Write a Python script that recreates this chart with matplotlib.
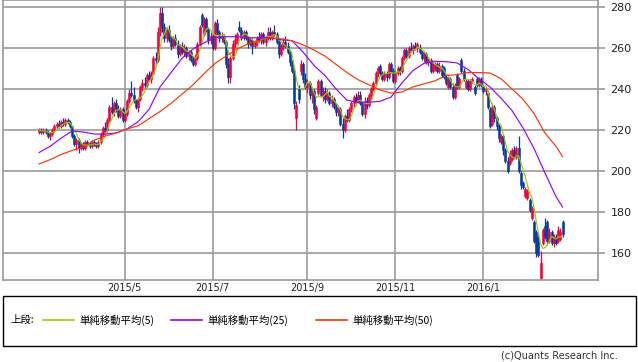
import numpy as np
import pandas as pd
import matplotlib
matplotlib.use("Agg")
import matplotlib.pyplot as plt
from matplotlib.patches import Rectangle
from matplotlib.lines import Line2D

# daily candles, one per trading day (early Mar 2015 .. late Feb 2016)
opens = [
    219, 220, 219, 220, 219, 217, 218, 220, 222, 223,
    222, 224, 223, 225, 224, 222, 217, 213, 215, 211,
    213, 211, 214, 213, 212, 214, 213, 212, 214, 218,
    221, 220, 225, 231, 229, 233, 230, 227, 230, 225,
    228, 234, 238, 237, 234, 231, 235, 241, 243, 242,
    247, 245, 248, 255, 254, 268, 277, 270, 265, 269,
    264, 261, 265, 262, 257, 261, 258, 260, 256, 258,
    254, 252, 255, 262, 276, 267, 274, 269, 264, 266,
    260, 272, 268, 265, 266, 263, 252, 246, 255, 262,
    264, 270, 269, 265, 268, 265, 262, 264, 261, 263,
    265, 264, 267, 263, 265, 268, 265, 268, 267, 263,
    257, 261, 263, 261, 258, 253, 249, 226, 240, 249,
    252, 245, 241, 243, 237, 239, 226, 238, 244, 237,
    239, 235, 238, 233, 235, 231, 229, 230, 223, 220,
    227, 225, 230, 233, 236, 234, 237, 233, 228, 234,
    232, 237, 240, 243, 248, 251, 248, 245, 248, 246,
    252, 249, 244, 248, 250, 249, 255, 259, 256, 260,
    259, 261, 260, 260, 258, 255, 257, 253, 254, 249,
    250, 252, 249, 251, 250, 246, 241, 245, 241, 236,
    247, 241, 254, 249, 241, 244, 240, 244, 241, 245,
    242, 245, 241, 239, 238, 230, 223, 231, 226, 222,
    214, 217, 210, 205, 204, 206, 210, 207, 211, 199,
    194, 188, 187, 186, 177, 175, 170, 168, 148, 165,
    173, 175, 166, 170, 165, 168, 166, 167, 175,
]
highs = [
    221, 221, 221, 221, 220, 219, 221, 223, 224, 225,
    225, 226, 226, 226, 225, 222, 218, 216, 216, 214,
    214, 215, 215, 214, 215, 215, 214, 215, 219, 222,
    224, 226, 232, 236, 234, 235, 232, 231, 231, 229,
    235, 240, 244, 241, 235, 236, 242, 245, 246, 248,
    249, 249, 256, 258, 270, 280, 280, 272, 270, 271,
    266, 266, 267, 264, 262, 263, 262, 261, 259, 259,
    256, 257, 263, 271, 277, 275, 275, 270, 268, 267,
    273, 274, 269, 268, 267, 264, 255, 256, 264, 267,
    268, 273, 270, 269, 269, 266, 265, 265, 264, 266,
    268, 268, 268, 266, 270, 270, 269, 271, 268, 264,
    262, 265, 266, 263, 259, 254, 250, 234, 242, 254,
    253, 248, 245, 244, 241, 240, 232, 245, 245, 241,
    241, 240, 239, 237, 236, 233, 232, 231, 226, 228,
    230, 231, 234, 237, 238, 239, 239, 234, 236, 236,
    238, 241, 244, 249, 251, 252, 249, 249, 249, 253,
    253, 250, 249, 251, 251, 256, 260, 260, 261, 263,
    262, 263, 263, 262, 259, 258, 258, 255, 255, 253,
    253, 253, 253, 252, 251, 247, 246, 246, 243, 243,
    248, 246, 255, 250, 245, 245, 245, 246, 242, 246,
    246, 246, 242, 241, 239, 231, 233, 232, 227, 223,
    218, 218, 211, 207, 210, 211, 212, 212, 217, 200,
    195, 192, 191, 187, 183, 176, 171, 170, 161, 172,
    177, 176, 172, 171, 169, 169, 173, 172, 176,
]
lows = [
    218, 218, 218, 218, 216, 215, 217, 219, 221, 221,
    221, 222, 222, 223, 221, 216, 212, 210, 209, 210,
    210, 210, 212, 211, 211, 212, 211, 211, 213, 217,
    219, 219, 224, 228, 227, 229, 226, 226, 224, 224,
    227, 233, 236, 233, 230, 229, 234, 239, 240, 241,
    244, 243, 247, 252, 253, 266, 268, 263, 263, 263,
    259, 260, 261, 255, 256, 257, 256, 255, 254, 253,
    251, 251, 254, 261, 270, 266, 268, 262, 262, 259,
    259, 266, 263, 263, 262, 250, 243, 243, 254, 260,
    262, 268, 264, 264, 264, 260, 261, 257, 260, 261,
    263, 262, 262, 261, 264, 264, 264, 266, 262, 255,
    256, 259, 260, 257, 251, 248, 230, 220, 233, 247,
    243, 240, 238, 235, 233, 228, 225, 237, 236, 234,
    233, 234, 232, 231, 230, 227, 227, 222, 216, 219,
    224, 224, 229, 231, 233, 233, 232, 227, 226, 230,
    231, 235, 239, 242, 246, 247, 244, 244, 244, 245,
    248, 243, 243, 247, 247, 248, 254, 255, 255, 258,
    257, 259, 258, 257, 254, 253, 252, 251, 248, 248,
    249, 248, 248, 246, 245, 242, 240, 240, 235, 235,
    240, 240, 248, 244, 240, 239, 239, 243, 237, 241,
    241, 241, 238, 237, 230, 221, 222, 224, 220, 214,
    213, 208, 204, 199, 203, 205, 206, 206, 199, 191,
    191, 187, 186, 180, 176, 165, 158, 158, 147, 164,
    167, 165, 165, 164, 163, 164, 165, 166, 168,
]
closes = [
    220, 219, 220, 219, 217, 218, 220, 222, 223, 222,
    224, 223, 225, 224, 222, 217, 213, 215, 211, 213,
    211, 214, 213, 212, 214, 213, 212, 214, 218, 221,
    220, 225, 231, 229, 233, 230, 227, 230, 225, 228,
    234, 238, 237, 234, 231, 235, 241, 243, 242, 247,
    245, 248, 255, 254, 268, 277, 270, 265, 269, 264,
    261, 265, 262, 257, 261, 258, 260, 256, 258, 254,
    252, 255, 262, 270, 271, 274, 269, 264, 266, 260,
    272, 268, 265, 266, 263, 252, 246, 255, 262, 264,
    267, 269, 265, 268, 265, 262, 264, 261, 263, 265,
    264, 267, 263, 265, 268, 265, 268, 267, 263, 257,
    261, 263, 261, 258, 253, 249, 233, 232, 235, 252,
    245, 241, 243, 237, 239, 230, 231, 244, 237, 239,
    235, 238, 233, 235, 231, 229, 230, 223, 220, 227,
    225, 230, 233, 236, 234, 237, 233, 228, 234, 232,
    237, 240, 243, 248, 250, 248, 245, 248, 246, 252,
    249, 244, 248, 250, 249, 255, 259, 256, 260, 259,
    261, 260, 262, 258, 255, 257, 253, 254, 249, 252,
    252, 249, 251, 247, 246, 243, 245, 241, 236, 242,
    241, 245, 249, 245, 244, 240, 244, 245, 238, 242,
    245, 242, 239, 240, 231, 222, 231, 226, 222, 216,
    217, 210, 205, 200, 209, 210, 207, 211, 200, 193,
    192, 191, 190, 181, 182, 166, 160, 159, 155, 171,
    168, 166, 170, 165, 168, 165, 171, 170, 169,
]

# 25 / 50 day averages every 5 sessions
ma_index = list(range(0, 236, 5)) + [238]
ma25 = [
    209, 212, 216, 219.5, 219, 218, 218, 218.5, 220.5, 224,
    230, 241, 248, 255, 259.5, 262.5, 265, 265.5, 265.5, 265,
    265, 265, 264, 263.5, 258, 251.5, 246.5, 240, 234.5, 233.5,
    233.5, 234, 236, 243, 249, 252.5, 253.5, 253.3, 252.7, 249.5,
    245, 241, 235.5, 229.5, 221, 211, 199, 187.5, 182.4,
]
ma50 = [
    203.4, 205.5, 208, 210, 211.5, 215, 217, 218.5, 220.5, 222,
    225.5, 229, 233, 237.5, 242, 247.5, 252.5, 256, 259.5, 262,
    263.5, 265, 264.5, 263.5, 261.5, 259, 256, 252, 248, 244.5,
    242, 239.5, 238, 238.5, 241, 242.5, 244, 246.5, 247, 248,
    248, 247.8, 245, 240, 235, 228, 218.5, 212, 207,
]

month_labels = ["2015/5", "2015/7", "2015/9", "2015/11", "2016/1"]
month_index = [39, 79, 122, 162, 202]

legend_labels = ["単純移動平均(5)", "単純移動平均(25)", "単純移動平均(50)"]

UP = "#f5003c"
DOWN = "#0a3a9c"
C5, C25, C50 = "#99cc00", "#9900ff", "#ff3300"
GRID = "#999999"
JP = ["Noto Sans CJK JP", "DejaVu Sans"]

fig = plt.figure(figsize=(6.38, 3.62), dpi=100)
ax = fig.add_axes([3 / 638, 82 / 362, 595 / 638, 280 / 362])

o = np.array(opens, float)
h = np.array(highs, float)
l = np.array(lows, float)
c = np.array(closes, float)
x = np.arange(len(c))
colors = [UP if cc >= oo else DOWN for oo, cc in zip(o, c)]

ax.vlines(x, l, h, colors=colors, lw=0.9, zorder=2)
ax.bar(x, np.maximum(np.abs(c - o), 0.6), bottom=np.minimum(o, c),
       width=0.9, color=colors, edgecolor=colors, linewidth=0.4, zorder=2)

ma5 = pd.Series(c).rolling(5, min_periods=1).mean()
ax.plot(x, ma5, color=C5, lw=0.85, zorder=3)
ax.plot(ma_index, ma25, color=C25, lw=0.85, zorder=3)
ax.plot(ma_index, ma50, color=C50, lw=0.85, zorder=3)

ax.set_xlim(-16.4, 254.1)
ax.set_ylim(146.8, 283.4)
ax.yaxis.tick_right()
ax.set_yticks(range(160, 281, 20))
ax.set_xticks(month_index)
ax.set_xticklabels(month_labels)
ax.grid(True, color=GRID, lw=1.2)
ax.set_axisbelow(True)
for s in ax.spines.values():
    s.set_color(GRID)
    s.set_linewidth(1.2)
ax.tick_params(axis="y", length=5, width=1.2, color=GRID, labelsize=8,
               pad=4, labelcolor="#222222")
ax.tick_params(axis="x", length=0, labelsize=7, pad=2, labelcolor="#222222")

# legend panel
fig.add_artist(Rectangle((3 / 638, 16 / 362), 633 / 638, 50 / 362,
                         transform=fig.transFigure, fill=False,
                         edgecolor="black", lw=1))
ly = 1 - 320 / 362
fig.text(10 / 638, ly, "上段:", family=JP, fontsize=7.5, va="center")
for (x0, x1, tx), col, lab in zip([(43, 74, 79), (171, 202, 207), (316, 347, 352)],
                                  [C5, C25, C50], legend_labels):
    fig.add_artist(Line2D([x0 / 638, x1 / 638], [ly, ly],
                          transform=fig.transFigure, color=col, lw=1.2))
    fig.text(tx / 638, ly, lab, family=JP, fontsize=7.5, va="center")

fig.text(618 / 638, 1 - 356 / 362, "(c)Quants Research Inc.",
         ha="right", va="center", fontsize=7, color="#333333")

fig.savefig("out.png", dpi=100)
